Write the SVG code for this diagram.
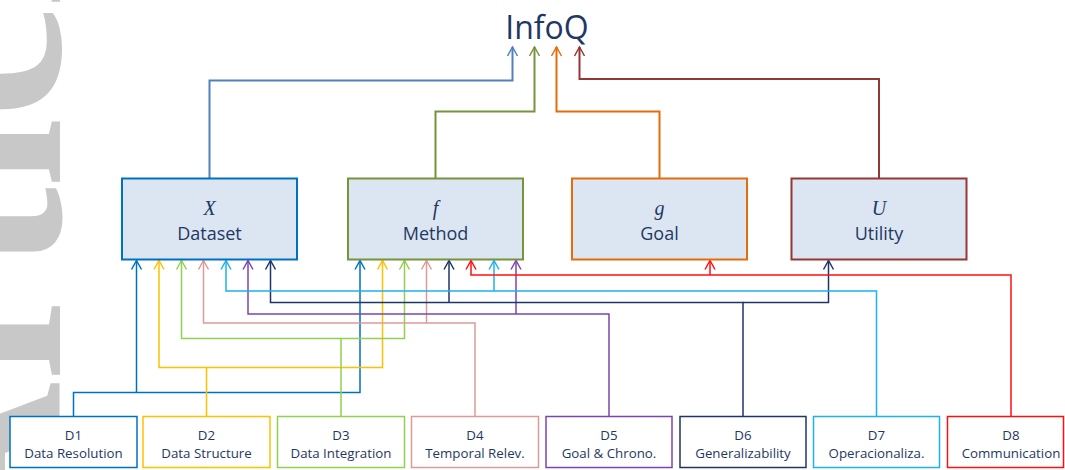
<svg xmlns="http://www.w3.org/2000/svg" width="1065" height="470" viewBox="0 0 1065 470">
  <style>
    .lbl{font-family:"Open Sans","Liberation Sans",sans-serif;fill:#1F3864;text-anchor:middle}
    .dim{font-size:13.3px}
    .big{font-size:18px}
    .title{font-size:32px}
    .sym{font-family:"Liberation Serif",serif;font-style:italic;font-size:20px;fill:#1F3864;text-anchor:middle}
    .comp{fill:#DCE6F2;stroke-width:2}
    .dbox{fill:#FFFFFF;stroke-width:1.5}
    .wire{fill:none;stroke-width:1.5}
    .up{fill:none;stroke-width:2}
    .head{fill:none;stroke-width:1.5}
    .watermark{font-family:"Liberation Serif",serif;font-weight:bold;font-size:250px;fill:#C8C8C8}
  </style>
  <defs>
    <marker id="a-x" markerUnits="userSpaceOnUse" orient="auto" refX="0" refY="0" markerWidth="10" markerHeight="12" overflow="visible"><path class="head" stroke="#4F81BD" d="M-9,-5 L0,0 L-9,5"/></marker>
    <marker id="a-f" markerUnits="userSpaceOnUse" orient="auto" refX="0" refY="0" markerWidth="10" markerHeight="12" overflow="visible"><path class="head" stroke="#77933C" d="M-9,-5 L0,0 L-9,5"/></marker>
    <marker id="a-g" markerUnits="userSpaceOnUse" orient="auto" refX="0" refY="0" markerWidth="10" markerHeight="12" overflow="visible"><path class="head" stroke="#E46C0A" d="M-9,-5 L0,0 L-9,5"/></marker>
    <marker id="a-u" markerUnits="userSpaceOnUse" orient="auto" refX="0" refY="0" markerWidth="10" markerHeight="12" overflow="visible"><path class="head" stroke="#953735" d="M-9,-5 L0,0 L-9,5"/></marker>
    <marker id="a-d1" markerUnits="userSpaceOnUse" orient="auto" refX="0" refY="0" markerWidth="10" markerHeight="12" overflow="visible"><path class="head" stroke="#0070C0" d="M-9,-5 L0,0 L-9,5"/></marker>
    <marker id="a-d2" markerUnits="userSpaceOnUse" orient="auto" refX="0" refY="0" markerWidth="10" markerHeight="12" overflow="visible"><path class="head" stroke="#FFC000" d="M-9,-5 L0,0 L-9,5"/></marker>
    <marker id="a-d3" markerUnits="userSpaceOnUse" orient="auto" refX="0" refY="0" markerWidth="10" markerHeight="12" overflow="visible"><path class="head" stroke="#92D050" d="M-9,-5 L0,0 L-9,5"/></marker>
    <marker id="a-d4" markerUnits="userSpaceOnUse" orient="auto" refX="0" refY="0" markerWidth="10" markerHeight="12" overflow="visible"><path class="head" stroke="#DD9A98" d="M-9,-5 L0,0 L-9,5"/></marker>
    <marker id="a-d5" markerUnits="userSpaceOnUse" orient="auto" refX="0" refY="0" markerWidth="10" markerHeight="12" overflow="visible"><path class="head" stroke="#7B45B0" d="M-9,-5 L0,0 L-9,5"/></marker>
    <marker id="a-d6" markerUnits="userSpaceOnUse" orient="auto" refX="0" refY="0" markerWidth="10" markerHeight="12" overflow="visible"><path class="head" stroke="#1F3468" d="M-9,-5 L0,0 L-9,5"/></marker>
    <marker id="a-d7" markerUnits="userSpaceOnUse" orient="auto" refX="0" refY="0" markerWidth="10" markerHeight="12" overflow="visible"><path class="head" stroke="#1FB1EC" d="M-9,-5 L0,0 L-9,5"/></marker>
    <marker id="a-d8" markerUnits="userSpaceOnUse" orient="auto" refX="0" refY="0" markerWidth="10" markerHeight="12" overflow="visible"><path class="head" stroke="#FF1010" d="M-9,-5 L0,0 L-9,5"/></marker>
  </defs>

  <!-- page watermark along the left margin, reading bottom to top -->
  <text class="watermark" transform="translate(60,562) rotate(-90)">Article</text>

  <g id="connectors">
    <!-- components into InfoQ -->
    <path class="up" stroke="#4F81BD" marker-end="url(#a-x)" d="M209.5 178 V80.5 H512.5 V47"/>
    <path class="up" stroke="#77933C" marker-end="url(#a-f)" d="M435.5 178 V111.5 H534.5 V47"/>
    <path class="up" stroke="#E46C0A" marker-end="url(#a-g)" d="M659.5 178 V111.5 H556.5 V47"/>
    <path class="up" stroke="#953735" marker-end="url(#a-u)" d="M879 178 V79 H579.5 V47"/>

    <!-- dimensions into components -->
    <path class="wire" stroke="#0070C0" marker-end="url(#a-d1)" d="M73.5 416.5 V392.5 H360 V260.5"/>
    <path class="wire" stroke="#0070C0" marker-end="url(#a-d1)" d="M136.5 392.5 V260.5"/>

    <path class="wire" stroke="#FFC000" marker-end="url(#a-d2)" d="M206.5 416.5 V367.5 H382.5 V260.5"/>
    <path class="wire" stroke="#FFC000" marker-end="url(#a-d2)" d="M206.5 367.5 H159 V260.5"/>

    <path class="wire" stroke="#92D050" marker-end="url(#a-d3)" d="M341 416.5 V338.5 H404.5 V260.5"/>
    <path class="wire" stroke="#92D050" marker-end="url(#a-d3)" d="M341 338.5 H181.5 V260.5"/>

    <path class="wire" stroke="#DD9A98" marker-end="url(#a-d4)" d="M475 416.5 V323 H203.5 V260.5"/>
    <path class="wire" stroke="#DD9A98" marker-end="url(#a-d4)" d="M426.5 323 V260.5"/>

    <path class="wire" stroke="#7B45B0" marker-end="url(#a-d5)" d="M609 416.5 V314 H248 V260.5"/>
    <path class="wire" stroke="#7B45B0" marker-end="url(#a-d5)" d="M516 314 V260.5"/>

    <path class="wire" stroke="#1F3468" marker-end="url(#a-d6)" d="M743 416.5 V302.5 H270.5 V260.5"/>
    <path class="wire" stroke="#1F3468" marker-end="url(#a-d6)" d="M743 302.5 H828.5 V260.5"/>
    <path class="wire" stroke="#1F3468" marker-end="url(#a-d6)" d="M449 302.5 V260.5"/>

    <path class="wire" stroke="#1FB1EC" marker-end="url(#a-d7)" d="M876.5 416.5 V291 H226 V260.5"/>
    <path class="wire" stroke="#1FB1EC" marker-end="url(#a-d7)" d="M494 291 V260.5"/>

    <path class="wire" stroke="#FF1010" marker-end="url(#a-d8)" d="M1011 416.5 V275 H471 V260.5"/>
    <path class="wire" stroke="#FF1010" marker-end="url(#a-d8)" d="M710 275 V260.5"/>
  </g>

  <g id="infoq">
    <text class="lbl title" x="547" y="39">InfoQ</text>
  </g>

  <g id="dataset">
    <rect class="comp" stroke="#0070C0" x="122" y="178.5" width="175" height="81"/>
    <text class="sym" x="209.5" y="215">X</text>
    <text class="lbl big" x="209.5" y="240">Dataset</text>
  </g>
  <g id="method">
    <rect class="comp" stroke="#77933C" x="348" y="178.5" width="175" height="81"/>
    <text class="sym" x="435.5" y="215">f</text>
    <text class="lbl big" x="435.5" y="240">Method</text>
  </g>
  <g id="goal">
    <rect class="comp" stroke="#E46C0A" x="572" y="178.5" width="175" height="81"/>
    <text class="sym" x="659.5" y="215">g</text>
    <text class="lbl big" x="659.5" y="240">Goal</text>
  </g>
  <g id="utility">
    <rect class="comp" stroke="#953735" x="791.5" y="178.5" width="175" height="81"/>
    <text class="sym" x="879" y="215">U</text>
    <text class="lbl big" x="879" y="240">Utility</text>
  </g>

  <g id="d1">
    <rect class="dbox" stroke="#0070C0" x="10" y="416.5" width="127" height="51"/>
    <text class="lbl dim" x="73.5" y="439.5">D1</text>
    <text class="lbl dim" x="73.5" y="458">Data Resolution</text>
  </g>
  <g id="d2">
    <rect class="dbox" stroke="#FFC000" x="143" y="416.5" width="127" height="51"/>
    <text class="lbl dim" x="206.5" y="439.5">D2</text>
    <text class="lbl dim" x="206.5" y="458">Data Structure</text>
  </g>
  <g id="d3">
    <rect class="dbox" stroke="#92D050" x="277.5" y="416.5" width="127" height="51"/>
    <text class="lbl dim" x="341" y="439.5">D3</text>
    <text class="lbl dim" x="341" y="458">Data Integration</text>
  </g>
  <g id="d4">
    <rect class="dbox" stroke="#DD9A98" x="411.5" y="416.5" width="127" height="51"/>
    <text class="lbl dim" x="475" y="439.5">D4</text>
    <text class="lbl dim" x="475" y="458">Temporal Relev.</text>
  </g>
  <g id="d5">
    <rect class="dbox" stroke="#7B45B0" x="546" y="416.5" width="126" height="51"/>
    <text class="lbl dim" x="609" y="439.5">D5</text>
    <text class="lbl dim" x="609" y="458">Goal &amp; Chrono.</text>
  </g>
  <g id="d6">
    <rect class="dbox" stroke="#1F3468" x="680" y="416.5" width="126" height="51"/>
    <text class="lbl dim" x="743" y="439.5">D6</text>
    <text class="lbl dim" x="743" y="458">Generalizability</text>
  </g>
  <g id="d7">
    <rect class="dbox" stroke="#1FB1EC" x="813.5" y="416.5" width="126" height="51"/>
    <text class="lbl dim" x="876.5" y="439.5">D7</text>
    <text class="lbl dim" x="876.5" y="458">Operacionaliza.</text>
  </g>
  <g id="d8">
    <rect class="dbox" stroke="#FF1010" x="947.5" y="416.5" width="116" height="51"/>
    <text class="lbl dim" x="1011" y="439.5">D8</text>
    <text class="lbl dim" x="1011" y="458">Communication</text>
  </g>
</svg>
